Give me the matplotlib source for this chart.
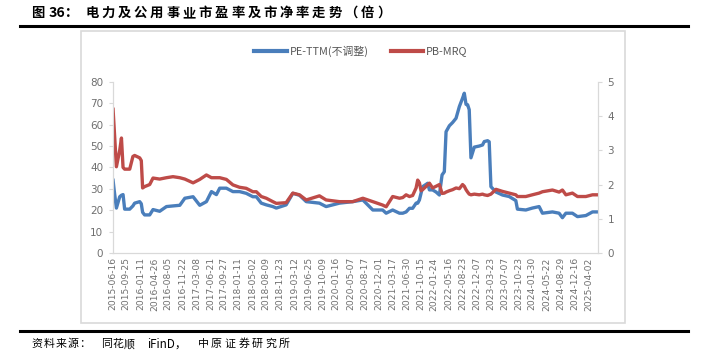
"""
Recreate figure 36: utilities sector PE / PB valuation trend.

Outputs:
- out.png
"""

from __future__ import annotations

import matplotlib

matplotlib.use("Agg")

import matplotlib.dates as mdates
import matplotlib.pyplot as plt
import pandas as pd
from matplotlib.lines import Line2D
from matplotlib.patches import Rectangle


DATES = [
    "2015-06-18", "2015-06-27", "2015-07-13", "2015-08-07", "2015-08-20",
    "2015-09-01", "2015-09-13", "2015-10-21", "2015-11-14", "2015-11-27",
    "2016-01-04", "2016-01-16", "2016-01-26", "2016-02-10", "2016-03-19",
    "2016-04-13", "2016-06-02", "2016-07-23", "2016-09-10", "2016-10-31",
    "2016-12-08", "2017-02-08", "2017-03-30", "2017-05-19", "2017-06-26",
    "2017-08-02", "2017-08-27", "2017-10-16", "2017-12-04", "2018-01-23",
    "2018-03-14", "2018-05-03", "2018-05-29", "2018-07-05", "2018-08-12",
    "2018-09-30", "2018-10-26", "2019-01-08", "2019-02-27", "2019-04-18",
    "2019-06-08", "2019-09-15", "2019-11-04", "2020-02-12", "2020-05-22",
    "2020-08-06", "2020-10-20", "2021-01-02", "2021-01-28", "2021-03-18",
    "2021-05-08", "2021-06-02", "2021-06-27", "2021-07-22", "2021-08-15",
    "2021-09-10", "2021-09-22", "2021-10-05", "2021-10-17", "2021-10-29",
    "2021-12-06", "2021-12-19", "2022-01-12", "2022-02-07", "2022-03-04",
    "2022-03-24", "2022-04-10", "2022-04-23", "2022-05-18", "2022-06-11",
    "2022-07-07", "2022-08-01", "2022-08-25", "2022-09-07", "2022-09-20",
    "2022-10-02", "2022-10-14", "2022-10-27", "2022-11-21", "2022-12-28",
    "2023-01-22", "2023-02-04", "2023-03-01", "2023-03-13", "2023-03-26",
    "2023-05-03", "2023-06-21", "2023-08-10", "2023-09-29", "2023-10-11",
    "2023-12-13", "2024-01-31", "2024-03-22", "2024-04-16", "2024-06-30",
    "2024-08-19", "2024-09-13", "2024-10-09", "2024-11-27", "2025-01-04",
    "2025-03-08", "2025-04-27", "2025-06-03",
]

PE_TTM = [
    34.0, 29.0, 21.0, 26.3, 27.0,
    27.3, 20.5, 20.5, 22.0, 23.3,
    24.0, 23.0, 19.0, 17.8, 17.8,
    20.3, 19.5, 21.7, 22.0, 22.3,
    25.6, 26.3, 22.3, 24.0, 28.7,
    27.3, 30.3, 30.3, 28.7, 28.7,
    27.9, 26.3, 26.3, 23.3, 22.5,
    21.7, 21.0, 22.5, 27.9, 27.0,
    24.0, 23.3, 21.7, 23.3, 24.0,
    24.8, 20.1, 20.1, 18.6, 20.1,
    18.6, 18.6, 19.2, 20.9, 20.9,
    23.3, 23.3, 24.8, 27.9, 31.0,
    32.6, 29.5, 29.5, 28.5, 27.1,
    36.5, 38.0, 56.7, 59.5, 61.0,
    63.0, 68.5, 72.4, 74.7, 69.5,
    69.3, 67.0, 44.5, 49.5, 50.0,
    50.5, 52.1, 52.5, 52.0, 31.0,
    28.5, 27.1, 26.4, 24.5, 20.5,
    20.1, 21.0, 21.7, 18.6, 19.2,
    18.6, 16.5, 18.6, 18.6, 17.0,
    17.5, 19.2, 19.2,
]

PB_MRQ = [
    4.20, 3.60, 2.52, 3.00, 3.36,
    2.50, 2.45, 2.45, 2.82, 2.85,
    2.78, 2.70, 1.90, 1.94, 2.00,
    2.19, 2.16, 2.20, 2.23, 2.20,
    2.16, 2.05, 2.15, 2.28, 2.20,
    2.20, 2.20, 2.15, 1.99, 1.92,
    1.89, 1.79, 1.79, 1.65, 1.60,
    1.50, 1.45, 1.47, 1.75, 1.70,
    1.55, 1.67, 1.55, 1.50, 1.50,
    1.60, 1.50, 1.40, 1.35, 1.65,
    1.60, 1.62, 1.70, 1.65, 1.68,
    1.90, 2.13, 2.05, 1.82, 1.85,
    1.99, 2.04, 1.90, 1.95, 2.00,
    1.74, 1.75, 1.78, 1.82, 1.85,
    1.90, 1.88, 2.00, 1.95, 1.85,
    1.78, 1.72, 1.70, 1.72, 1.70,
    1.72, 1.70, 1.68, 1.70, 1.72,
    1.86, 1.80, 1.75, 1.70, 1.65,
    1.65, 1.70, 1.75, 1.79, 1.84,
    1.78, 1.84, 1.70, 1.75, 1.65,
    1.65, 1.70, 1.70,
]

TICK_DATES = [
    "2015-06-16", "2015-09-25", "2016-01-11", "2016-04-26", "2016-08-05",
    "2016-11-22", "2017-03-08", "2017-06-21", "2017-09-27", "2018-01-11",
    "2018-05-02", "2018-08-09", "2018-11-23", "2019-03-12", "2019-06-25",
    "2019-10-09", "2020-01-16", "2020-05-07", "2020-08-17", "2020-12-01",
    "2021-03-17", "2021-06-30", "2021-10-15", "2022-01-24", "2022-05-16",
    "2022-08-23", "2022-12-07", "2023-03-23", "2023-07-07", "2023-10-23",
    "2024-01-30", "2024-05-22", "2024-08-29", "2024-12-16", "2025-04-02",
]

LEFT_TICKS = [0, 10, 20, 30, 40, 50, 60, 70, 80]
RIGHT_TICKS = [0, 1, 2, 3, 4, 5]

# text pieces, drawn with the wide letter spacing of the original
TITLE_HEAD = ["图", "36："]
TITLE_BODY = "电力及公用事业市盈率及市净率走势（倍）"
SOURCE_PARTS = ["资料来源：", "同花顺", "iFinD，", "中原证券研究所"]
LABEL_PE = "PE-TTM(不调整)"
LABEL_PB = "PB-MRQ"

BLUE = "#4a7ebb"
RED = "#be4b48"
GRID_GRAY = "#d9d9d9"
TEXT_GRAY = "#6f6f6f"

W_PX = 705
H_PX = 364


def spaced_text(fig, xc_px, y_px, text, pitch_px, **kw) -> None:
    """Draw each character centred on a fixed pitch (pixels)."""
    for i, ch in enumerate(text):
        fig.text((xc_px + i * pitch_px) / W_PX, 1 - y_px / H_PX, ch,
                 ha="center", va="center", **kw)


def main() -> None:
    plt.rcParams["font.family"] = ["Noto Sans CJK SC", "DejaVu Sans"]

    dates = pd.to_datetime(DATES)
    ticks = pd.to_datetime(TICK_DATES)

    fig = plt.figure(figsize=(W_PX / 100, H_PX / 100), dpi=100)

    # chart frame, title rule and source rule
    fig.patches.append(
        Rectangle((0.115, 0.113), 0.772, 0.802, transform=fig.transFigure,
                  fill=False, edgecolor=GRID_GRAY, linewidth=1.2)
    )
    fig.add_artist(Line2D([0.028, 0.976], [0.929, 0.929], color="black",
                          linewidth=2.2, transform=fig.transFigure))
    fig.add_artist(Line2D([0.028, 0.976], [0.0905, 0.0905], color="black",
                          linewidth=2.2, transform=fig.transFigure))

    title_kw = dict(fontsize=9.6, fontweight="bold")
    fig.text(31 / W_PX, 1 - 13 / H_PX, TITLE_HEAD[0], ha="left",
             va="center", **title_kw)
    fig.text(49 / W_PX, 1 - 13 / H_PX, TITLE_HEAD[1], ha="left",
             va="center", fontsize=10.2, fontweight="bold")
    spaced_text(fig, 92, 13, TITLE_BODY, 16.2, **title_kw)

    source_kw = dict(fontsize=7.9)
    spaced_text(fig, 37, 344, SOURCE_PARTS[0], 12.0, **source_kw)
    spaced_text(fig, 107, 344, SOURCE_PARTS[1], 10.9, **source_kw)
    fig.text(147 / W_PX, 1 - 344 / H_PX, SOURCE_PARTS[2], ha="left",
             va="center", fontsize=8.4)
    spaced_text(fig, 203, 344, SOURCE_PARTS[3], 13.6, **source_kw)

    ax = fig.add_axes([0.160, 0.305, 0.688, 0.470])
    ax2 = ax.twinx()

    ax.plot(dates, PE_TTM, color=BLUE, linewidth=2.4, solid_joinstyle="round")
    ax2.plot(dates, PB_MRQ, color=RED, linewidth=2.4, solid_joinstyle="round")

    ax.set_xlim(pd.Timestamp("2015-06-16"), pd.Timestamp("2025-06-06"))
    ax.set_ylim(0, 80)
    ax2.set_ylim(0, 5)

    ax.set_yticks(LEFT_TICKS)
    ax2.set_yticks(RIGHT_TICKS)
    ax.set_xticks(ticks)
    ax.xaxis.set_major_formatter(mdates.DateFormatter("%Y-%m-%d"))
    ax.set_xticklabels(TICK_DATES, rotation=90, fontsize=6.6,
                       color=TEXT_GRAY, family="DejaVu Sans")

    for a in (ax, ax2):
        a.spines["top"].set_visible(False)
        for side in ("left", "right", "bottom"):
            a.spines[side].set_color(GRID_GRAY)
        a.tick_params(axis="y", labelsize=7.5, colors=TEXT_GRAY, length=3,
                      color=GRID_GRAY, pad=4)
    ax.tick_params(axis="x", length=0, pad=3)
    for lab in ax.get_yticklabels() + ax2.get_yticklabels():
        lab.set_family("DejaVu Sans")

    handles = [
        Line2D([], [], color=BLUE, linewidth=3),
        Line2D([], [], color=RED, linewidth=3),
    ]
    fig.legend(handles, [LABEL_PE, LABEL_PB], loc="center",
               bbox_to_anchor=(0.512, 0.86), ncol=2, frameon=False,
               fontsize=7.8, handlelength=3.0, columnspacing=2.0,
               handletextpad=0.3, labelcolor="#595959")

    fig.savefig("out.png", dpi=100)
    plt.close(fig)


if __name__ == "__main__":
    main()
